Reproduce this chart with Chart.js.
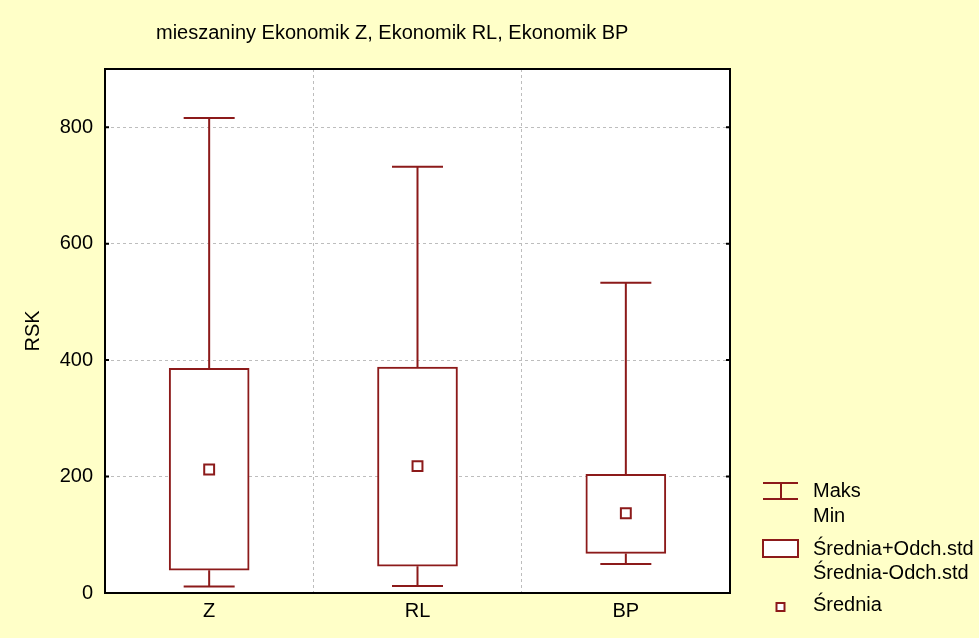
<!DOCTYPE html>
<html><head><meta charset="utf-8">
<script src="https://cdn.jsdelivr.net/npm/chart.js@4"></script>
<style>html,body{margin:0;padding:0;background:#FFFFC8;}#wrap{width:979px;height:638px;}</style>
</head><body><div id="wrap"><canvas id="c" width="979" height="638"></canvas></div>
<script>
const categories = ['Z', 'RL', 'BP'];
const maxVals = [816, 732, 533];
const minVals = [11, 12, 50];
const boxHigh = [386, 388, 204];
const boxLow = [39, 46, 68];
const means = [212, 218, 137];
const yTicks = [0, 200, 400, 600, 800];
const titleText = 'mieszaniny Ekonomik Z, Ekonomik RL, Ekonomik BP';
const yTitle = 'RSK';
const legendItems = [['Maks', 'Min'], ['Średnia+Odch.std', 'Średnia-Odch.std'], ['Średnia']];

const RED = '#8C1A1A';
const FONT = '"Liberation Sans", Arial, sans-serif';
const FS = 20;

const bgPlugin = {
  id: 'bg',
  beforeDraw(chart) {
    const ctx = chart.ctx, a = chart.chartArea;
    ctx.save();
    ctx.fillStyle = '#FFFFC8';
    ctx.fillRect(0, 0, chart.width, chart.height);
    ctx.fillStyle = '#FFFFFF';
    ctx.fillRect(a.left, a.top, a.right - a.left, a.bottom - a.top);
    ctx.restore();
  }
};

const whiskerPlugin = {
  id: 'whiskers',
  beforeDatasetsDraw(chart) {
    const ctx = chart.ctx, x = chart.scales.x, y = chart.scales.y;
    ctx.save();
    ctx.strokeStyle = RED;
    ctx.lineWidth = 2;
    categories.forEach((c, i) => {
      const cx = x.getPixelForValue(i);
      const half = 25.5;
      ctx.beginPath();
      ctx.moveTo(cx, y.getPixelForValue(maxVals[i]));
      ctx.lineTo(cx, y.getPixelForValue(boxHigh[i]));
      ctx.moveTo(cx, y.getPixelForValue(boxLow[i]));
      ctx.lineTo(cx, y.getPixelForValue(minVals[i]));
      ctx.moveTo(cx - half, y.getPixelForValue(maxVals[i]));
      ctx.lineTo(cx + half, y.getPixelForValue(maxVals[i]));
      ctx.moveTo(cx - half, y.getPixelForValue(minVals[i]));
      ctx.lineTo(cx + half, y.getPixelForValue(minVals[i]));
      ctx.stroke();
    });
    ctx.restore();
  }
};

const framePlugin = {
  id: 'frame',
  afterDraw(chart) {
    const ctx = chart.ctx, a = chart.chartArea, y = chart.scales.y;
    ctx.save();
    ctx.strokeStyle = '#000';
    ctx.lineWidth = 2;
    ctx.strokeRect(a.left, a.top, a.right - a.left, a.bottom - a.top);
    ctx.beginPath();
    yTicks.forEach(v => {
      const py = y.getPixelForValue(v);
      ctx.moveTo(a.left, py); ctx.lineTo(a.left + 4, py);
      ctx.moveTo(a.right, py); ctx.lineTo(a.right - 4, py);
    });
    ctx.stroke();
    // title
    ctx.fillStyle = '#000';
    ctx.font = FS + 'px ' + FONT;
    ctx.textAlign = 'left';
    ctx.textBaseline = 'middle';
    ctx.fillText(titleText, 156, 33);
    // legend
    const lx = 763, tx = 813;
    ctx.strokeStyle = RED;
    ctx.lineWidth = 2;
    ctx.beginPath();
    ctx.moveTo(lx, 483); ctx.lineTo(lx + 35, 483);
    ctx.moveTo(lx, 499); ctx.lineTo(lx + 35, 499);
    ctx.moveTo(lx + 18, 483); ctx.lineTo(lx + 18, 499);
    ctx.stroke();
    ctx.fillStyle = '#fff';
    ctx.fillRect(lx, 540, 35, 17);
    ctx.strokeRect(lx, 540, 35, 17);
    ctx.fillRect(776.5, 603, 8, 8);
    ctx.strokeRect(776.5, 603, 8, 8);
    ctx.fillStyle = '#000';
    ctx.fillText(legendItems[0][0], tx, 491);
    ctx.fillText(legendItems[0][1], tx, 516);
    ctx.fillText(legendItems[1][0], tx, 549);
    ctx.fillText(legendItems[1][1], tx, 573);
    ctx.fillText(legendItems[2][0], tx, 605);
    ctx.restore();
  }
};

new Chart(document.getElementById('c'), {
  type: 'bar',
  data: {
    labels: categories,
    datasets: [
      {
        label: 'box',
        data: boxLow.map((l, i) => [l, boxHigh[i]]),
        backgroundColor: '#FFFFFF',
        borderColor: RED,
        borderWidth: 2,
        borderSkipped: false,
        barThickness: 80,
        order: 2
      },
      {
        label: 'mean',
        type: 'line',
        data: means,
        showLine: false,
        pointStyle: 'rect',
        pointRadius: 7,
        pointHoverRadius: 7,
        pointBackgroundColor: '#FFFFFF',
        pointBorderColor: RED,
        pointBorderWidth: 2,
        order: 1
      }
    ]
  },
  options: {
    responsive: false,
    animation: false,
    devicePixelRatio: 1,
    layout: { padding: { left: 0, right: 249, top: 69, bottom: 0 } },
    plugins: { legend: { display: false }, tooltip: { enabled: false }, title: { display: false } },
    scales: {
      x: {
        grid: { color: '#BDBDBD', offset: true, drawTicks: false },
        border: { display: false, dash: [3, 3] },
        ticks: { color: '#000', font: { family: FONT, size: FS }, padding: 6 },
        afterFit(s) { s.height = 45; }
      },
      y: {
        min: 0, max: 900,
        afterBuildTicks(s) { s.ticks = yTicks.map(v => ({ value: v })); },
        grid: { color: '#BDBDBD', drawTicks: false },
        border: { display: false, dash: [3, 3] },
        ticks: { color: '#000', font: { family: FONT, size: FS }, padding: 12 },
        title: { display: true, text: yTitle, color: '#000', font: { family: FONT, size: FS }, padding: { top: 21 } },
        afterFit(s) { s.width = 105; }
      }
    }
  },
  plugins: [bgPlugin, whiskerPlugin, framePlugin]
});
</script></body></html>
